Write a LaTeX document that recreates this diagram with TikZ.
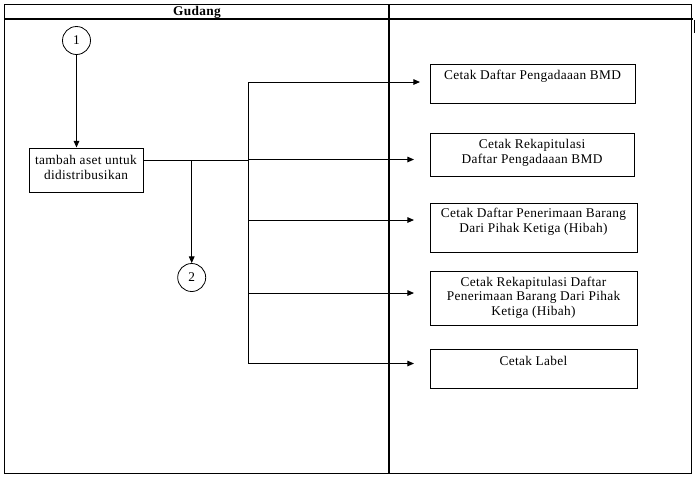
\documentclass[tikz,border=0pt]{standalone}
\usepackage{fontspec}
\setmainfont{Liberation Serif}[LetterSpace=2.5]
\usetikzlibrary{arrows.meta}
\begin{document}
\begin{tikzpicture}[x=0.75pt,y=-0.75pt,
  frame/.style={line width=0.85pt},
  conn/.style={line width=0.7pt},
  arr/.style={conn,-{Triangle[length=5pt,width=4.2pt]}},
  box/.style={draw,line width=0.7pt,rectangle,inner sep=0pt},
  circ/.style={draw,line width=0.6pt,circle,minimum size=21pt,inner sep=0pt,font=\fontsize{10}{11}\selectfont},
  lbl/.style={align=center,inner sep=0pt,font=\fontsize{10}{11}\selectfont}]
\useasboundingbox (0,0) rectangle (695,480);
% frame
\draw[frame] (4.5,4.5) rectangle (691.5,473.5);
\draw[frame] (4.5,19) -- (693,19);
\draw[frame] (389,4.5) -- (389,473.5);
\draw[frame] (695,20) -- (695,33);
\node[font=\fontsize{10}{11}\selectfont\bfseries] (hdr) at (197,12) {Gudang};
% left lane
\node[circ] (c1) at (76.5,40.5) {1};
\node[box,minimum width=85.5pt,minimum height=33pt] (t) at (86,170) {};
\node[lbl] (tl) at (86,167.5) {tambah aset untuk\\didistribusikan};
\node[circ] (c2) at (191.7,277.5) {2};
\draw[arr] (c1.south) -- (c1.south |- t.north);
\coordinate (j) at (248,160);
\coordinate (top) at (248,82);
\coordinate (bot) at (248,363.5);
\coordinate (br) at (191.7,160);
\draw[conn] (t.east |- j) -- (j);
\draw[arr] (br) -- (c2.north);
\draw[conn] (top) -- (bot);
% right boxes
\node[box,minimum width=153.75pt,minimum height=29.25pt] (b1) at (532.5,83.5) {};
\node[lbl] (l1) at (532.5,76) {Cetak Daftar Pengadaaan BMD};
\node[box,minimum width=153pt,minimum height=32.25pt] (b2) at (532,154.5) {};
\node[lbl] (l2) at (532,152.5) {Cetak Rekapitulasi\\Daftar Pengadaaan BMD};
\node[box,minimum width=155.25pt,minimum height=36.75pt] (b3) at (533.5,227.5) {};
\node[lbl] (l3) at (533.5,222) {Cetak Daftar Penerimaan Barang\\Dari Pihak Ketiga (Hibah)};
\node[box,minimum width=155.25pt,minimum height=40.5pt] (b4) at (533.5,298) {};
\node[lbl] (l4) at (533.5,297.5) {Cetak Rekapitulasi Daftar\\Penerimaan Barang Dari Pihak\\Ketiga (Hibah)};
\node[box,minimum width=155.25pt,minimum height=29.25pt] (b5) at (533.5,368.5) {};
\node[lbl] (l5) at (533.5,361) {Cetak Label};
% arrows
\coordinate (e1) at (420,82);
\coordinate (e2) at (414,159.5);
\coordinate (e3) at (414,220);
\coordinate (e4) at (414,293);
\coordinate (e5) at (414,363.5);
\draw[arr] (top) -- (e1);
\draw[arr] (top |- e2) -- (e2);
\draw[arr] (top |- e3) -- (e3);
\draw[arr] (top |- e4) -- (e4);
\draw[arr] (bot) -- (e5);
\end{tikzpicture}
\end{document}
